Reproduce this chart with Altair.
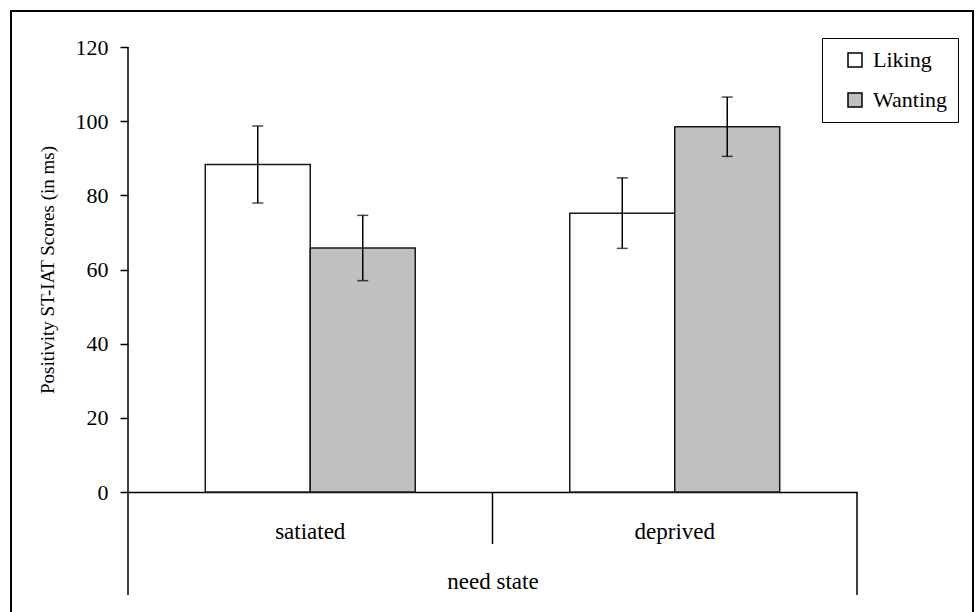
import altair as alt
import pandas as pd

# ---- data ----
need_states = ["satiated", "deprived"]
groups = ["Liking", "Wanting"]
liking_means = [88.3, 75.2]
liking_errors = [10.4, 9.5]
wanting_means = [65.8, 98.5]
wanting_errors = [8.8, 8.0]
y_ticks = [0, 20, 40, 60, 80, 100, 120]
bar_colors = ["#ffffff", "#c0c0c0"]

rows = []
for i, s in enumerate(need_states):
    rows.append({"state": s, "group": "Liking", "mean": liking_means[i],
                 "lo": liking_means[i] - liking_errors[i], "hi": liking_means[i] + liking_errors[i]})
    rows.append({"state": s, "group": "Wanting", "mean": wanting_means[i],
                 "lo": wanting_means[i] - wanting_errors[i], "hi": wanting_means[i] + wanting_errors[i]})
df = pd.DataFrame(rows)

FONT = "Liberation Serif"
W, H = 729, 445
EXT = 103  # how far axis frame lines extend below the baseline
MID = 52   # middle divider length

x_enc = alt.X("state:N", sort=need_states,
              scale=alt.Scale(paddingInner=0, paddingOuter=0),
              axis=alt.Axis(title="need state", ticks=False, domain=True, domainColor="black",
                            domainWidth=1.5, labelAngle=0, labelFont=FONT, labelFontSize=23,
                            labelColor="black", labelPadding=28, titleFont=FONT,
                            titleFontSize=23, titleFontWeight="normal", titleColor="black",
                            titleBaseline="alphabetic", titleY=96))
xo_enc = alt.XOffset("group:N", sort=groups, scale=alt.Scale(paddingOuter=0.736, paddingInner=0))
y_scale = alt.Scale(domain=[0, 120])

bars = alt.Chart(df).mark_bar(stroke="#1a1a1a", strokeWidth=1.5).encode(
    x=x_enc,
    xOffset=xo_enc,
    y=alt.Y("mean:Q", scale=y_scale,
            axis=alt.Axis(title="Positivity ST-IAT Scores (in ms)", values=y_ticks, grid=False,
                          domain=False, ticks=True, tickColor="black", tickWidth=1.5, tickSize=8,
                          labelFont=FONT, labelFontSize=22, labelColor="black", labelPadding=12,
                          titleFont=FONT, titleFontSize=19, titleFontWeight="normal",
                          titleColor="black", titleBaseline="alphabetic", titleX=-75)),
    color=alt.Color("group:N", sort=groups,
                    scale=alt.Scale(domain=groups, range=bar_colors),
                    legend=alt.Legend(title=None, orient="none", legendX=694, legendY=-9,
                                      strokeColor="black", fillColor="white", padding=11,
                                      symbolType="square", symbolSize=196,
                                      symbolStrokeColor="black", symbolStrokeWidth=1.5,
                                      symbolOffset=11, labelOffset=7, labelFont=FONT,
                                      labelFontSize=22, labelColor="black", rowPadding=18)),
)

err_rule = alt.Chart(df).mark_rule(color="black", strokeWidth=1.5).encode(
    x=alt.X("state:N", sort=need_states),
    xOffset=alt.XOffset("group:N", sort=groups),
    y="lo:Q",
    y2="hi:Q",
)
cap_lo = alt.Chart(df).mark_tick(color="black", size=11, thickness=1.5).encode(
    x=alt.X("state:N", sort=need_states),
    xOffset=alt.XOffset("group:N", sort=groups),
    y="lo:Q",
)
cap_hi = alt.Chart(df).mark_tick(color="black", size=11, thickness=1.5).encode(
    x=alt.X("state:N", sort=need_states),
    xOffset=alt.XOffset("group:N", sort=groups),
    y="hi:Q",
)

one = alt.Data(values=[{}])
left_line = alt.Chart(one).mark_rule(color="black", strokeWidth=1.5).encode(
    x=alt.value(0), y=alt.value(0), y2=alt.value(H + EXT))
right_line = alt.Chart(one).mark_rule(color="black", strokeWidth=1.5).encode(
    x=alt.value(W), y=alt.value(H), y2=alt.value(H + EXT))
mid_line = alt.Chart(one).mark_rule(color="black", strokeWidth=1.5).encode(
    x=alt.value(W / 2), y=alt.value(H), y2=alt.value(H + MID))
frame = alt.Chart(one).mark_rect(fill="transparent", stroke="black", strokeWidth=2).encode(
    x=alt.value(-117), x2=alt.value(845), y=alt.value(-36), y2=alt.value(620))

chart = alt.layer(frame, bars, err_rule, cap_lo, cap_hi, left_line, right_line, mid_line).properties(
    width=W, height=H,
    autosize=alt.AutoSizeParams(type="none"),
    padding={"left": 128, "top": 47, "right": 118, "bottom": 120},
    background="white",
).configure_view(stroke=None)

chart.save("out.html", embed_options={"renderer": "svg", "actions": False})
